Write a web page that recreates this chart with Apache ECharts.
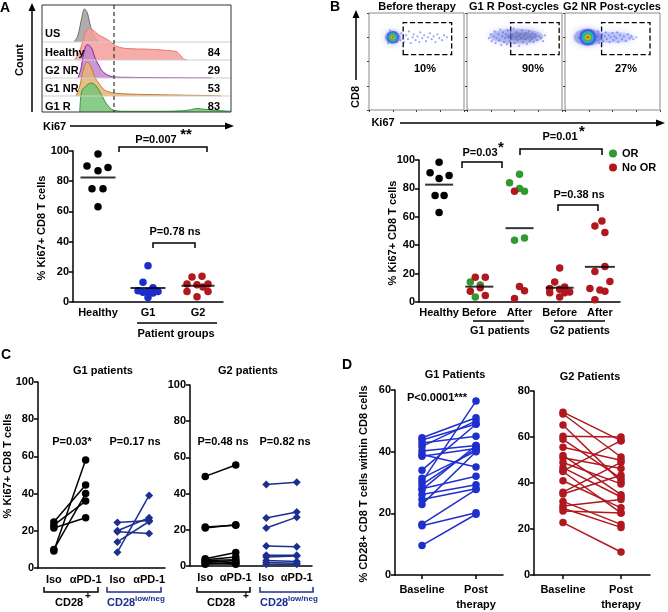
<!DOCTYPE html>
<html><head><meta charset="utf-8">
<script src="https://cdn.jsdelivr.net/npm/echarts@6/dist/echarts.min.js"></script>
<style>html,body{margin:0;padding:0;background:#fff}#c{width:668px;height:612px}</style>
</head><body><div id="c"></div>
<script>
// ================= DATA =================
// Panel A: Ki67 histograms [Ki67 channel 0-100, normalised count 0-100]
const histUS      = [[17,0],[19,20],[21,70],[22.5,97],[24,85],[25.5,50],[27,25],[29,5],[30,0]];
const histHealthy = [[17,0],[19,15],[21,45],[23,80],[25,94],[27,88],[30,74],[33,65],[36,55],[38,45],[42,36],[48,33],[55,32],[62,30],[68,27],[71,25],[73,15],[75,3],[77,0]];
const histG2NR    = [[19,0],[20.5,25],[22,70],[24,98],[26,90],[28,60],[30,38],[32,20],[35,8],[38,3],[45,2],[60,1],[75,0.5],[90,0]];
const histG1NR    = [[18,0],[20,30],[22,80],[24,100],[26,85],[28,55],[30,38],[33,18],[37,10],[42,7],[50,5],[60,4],[70,3],[80,2],[90,1],[95,0]];
const histG1R     = [[20,0],[21,60],[23,75],[26,85],[28,80],[30,65],[32,45],[34,25],[36,12],[38,5],[45,2],[60,2],[72,3],[78,6],[82,10],[86,8],[92,5],[97,3],[100,2]];
const histLabels   = ['US','Healthy','G2 NR','G1 NR','G1 R'];
const histPercents = ['','84','29','53','83'];

// Panel A: scatter
const aCategories = ['Healthy','G1','G2'];
const aHealthy = [98,90,89,87,75,75,63];
const aG1      = [24,13,9.5,7.5,7,7,6.5,6,3];
const aG2      = [17,16.5,12,12,11.5,10,7,7,3.5];

// Panel B: flow plots (Ki67 x, CD8 y; 0-100 channel units)
const flowTitles   = ['Before therapy','G1 R Post-cycles','G2 NR Post-cycles'];
const flowPercents = ['10%','90%','27%'];
const flowGates = [[[36,57],[87,90]], [[46,57],[97,90]], [[38.5,57],[89.5,90]]];
const flow1Dots = [[31,76],[33,72],[34,79],[36,74],[37,70],[39,77],[41,73],[42,81],[44,69],[46,75],[47,78],[49,72],[51,76],[53,70],[54,80],[56,74],[58,77],[60,71],[62,75],[64,79],[66,73],[68,76],[70,70],[72,78],[74,74],[77,72],[79,77],[82,75],[28,80],[29,70],[22,82],[20,69]];
const flow2Dots = [[23,74],[25,78],[26,71],[28,76],[29,81],[30,69],[31,74],[33,78],[34,72],[35,83],[36,67],[37,76],[38,80],[39,70],[40,74],[41,78],[42,68],[43,82],[44,75],[45,71],[46,79],[47,73],[48,77],[49,84],[50,69],[51,75],[52,80],[53,72],[54,76],[55,66],[56,78],[57,74],[58,82],[59,70],[60,77],[61,73],[62,79],[63,68],[64,75],[65,81],[66,71],[67,76],[68,73],[69,79],[70,70],[71,75],[72,78],[74,72],[76,76],[78,74],[80,71],[82,77]];
const flow3Dots = [[15,74],[17,79],[18,70],[30,78],[32,72],[34,76],[35,81],[36,69],[38,74],[39,78],[40,71],[42,76],[43,80],[44,73],[46,77],[47,70],[48,75],[50,79],[51,72],[52,76],[54,74],[55,80],[56,70],[58,77],[60,73],[62,76],[64,71],[66,78],[68,74],[70,76],[72,73],[75,75]];
const flow1Core = [25,75];
const flow2Band = [52,76];
const flow3Core = [24,75];
const flow3Tail = [50,75];

// Panel B: scatter
const bCategories   = ['Healthy','Before','After','Before','After'];
const bHealthy      = [98.5,91,89,87,75,75,63];
const bG1BeforeOR   = [14,12,3.5];
const bG1BeforeNoOR = [17.5,17.5,10,7.5,4.5];
const bG1AfterOR    = [90,84,80,78,45,43.5];
const bG1AfterNoOR  = [78,11,8,2.5];
const bG2Before     = [24,14,10.5,9.5,9,7,6.5,6.5,3.5];
const bG2After      = [57,53.5,49,25,21.5,14.5,9.5,8.5,7.5,1.5];

// Panel C: paired [Iso, aPD-1]
const cTicks = ['Iso','αPD-1','Iso','αPD-1'];
const cG1Pos = [[9.2,58],[10,40],[24.7,44.6],[23,36],[21.5,27]];
const cG1Low = [[24.5,25.5],[20,27],[19.5,18.5],[14,25],[8.5,39]];
const cG2Pos = [[49.5,55.8],[21.5,22.5],[21,22.8],[4,7.5],[3.5,5],[3,3.5],[2.5,2],[2,3],[1.5,1],[1,1.5]];
const cG2Low = [[45,46.3],[26.5,29.8],[21,27],[11,10.7],[6,6],[5,5.5],[3,2.5],[2,1.5],[1,1]];

// Panel D: paired [Baseline, Post therapy]
const dTicks = ['Baseline','Post\ntherapy'];
const dG1 = [[44.5,51],[43.8,49],[42.8,45],[41.7,50],[40.2,42],[39.1,35],[38.5,41],[34,48.9],[31.4,40.2],[30.3,56.4],[29.3,41],[28,32],[27.7,42],[26.1,29.3],[24.5,28],[22.9,40],[16.5,27.7],[16,20.2],[9.6,19.7]];
const dG2 = [[70.8,58.4],[70,51.3],[65.2,40.6],[60.3,60],[59,42],[55.5,49.9],[52,34.9],[51,46.3],[48.9,39.6],[46.7,33.9],[45.3,58.4],[45,27],[41,29.2],[36,49],[35.2,43.4],[32,22],[30,32.8],[29,20.7],[27.8,27],[22.8,10]];

// ================= LAYOUT / STYLE =================
const FONT = '"Liberation Sans", Arial, Helvetica, sans-serif';
const F = s => `bold ${s}px ${FONT}`;
const BLUE = '#1f2fcf', RED = '#b0171f', GREEN = '#2f9a2f', NAVY = '#1c2f8f';
const histStyles = [
  {fill:'#a0a0a0', line:'#6e6e6e'},
  {fill:'#f49d99', line:'#e47874'},
  {fill:'#c186cc', line:'#8a1f9a'},
  {fill:'#e8b174', line:'#c07a30'},
  {fill:'#76c476', line:'#2f9a3a'}
];
const histBaselines = [42,60,78,96,112];
const jitA = {h:[0,-11,10,0,-6,5,0], g1:[0,-5,5,-10,0,10,-5,5,0], g2:[4,-6,-11,10,-1,5,-11,10,-1]};
const jitB = {h:[0,-9,10,0,-4,5,0], bOR:[-9,1,-4], bNo:[-4,6,1,-9,6], aOR:[0,-10,0,5,5,-5], aNo:[-5,0,5,-5], g2b:[0,-5,5,-10,0,10,-10,5,0], g2a:[2,-5,5,5,-5,10,-10,0,5,-5]};

const grids=[], xAxis=[], yAxis=[], series=[], graphic=[];
function addGrid(rect, xa, ya){ const i=grids.length; grids.push(rect); xAxis.push(Object.assign({gridIndex:i}, xa)); yAxis.push(Object.assign({gridIndex:i}, ya)); return i; }
const hidden = (min,max)=>({type:'value',min,max,show:false});
function valAxis(min,max,interval){ return {type:'value',min,max,interval,axisLine:{show:true,lineStyle:{color:'#000',width:1.5}},axisTick:{show:true,length:4,lineStyle:{color:'#000',width:1.5}},axisLabel:{color:'#000',fontWeight:'bold',fontSize:11,fontFamily:FONT,margin:4},splitLine:{show:false}}; }
function catAxis(data, opts){ opts=opts||{}; return {type:'category',data,axisLine:{show:true,lineStyle:{color:'#000',width:1.5}},axisTick:Object.assign({show:false},opts.tick||{}),axisLabel:Object.assign({color:'#000',fontWeight:'bold',fontSize:11,fontFamily:FONT,margin:5,interval:0},opts.label||{}),splitLine:{show:false}}; }
function dots(gi, cat, vals, jit, color, size, name){ series.push({type:'scatter', name, xAxisIndex:gi, yAxisIndex:gi, symbolSize:size, itemStyle:{color, opacity:1}, z:3, data: vals.map((v,k)=>({value:[cat,v], symbolOffset:[jit[k]||0,0]}))}); }
function meanBar(gi, cat, vals, w){ const m = vals.reduce((a,b)=>a+b,0)/vals.length; series.push({type:'scatter', xAxisIndex:gi, yAxisIndex:gi, symbol:'rect', symbolSize:[w,2], itemStyle:{color:'#000'}, z:6, silent:true, data:[[cat,m]]}); }
function pairs(gi, x0, arr, color, symbol, size){ arr.forEach(p=>series.push({type:'line', xAxisIndex:gi, yAxisIndex:gi, data:[[x0,p[0]],[x0+1,p[1]]], symbol, symbolSize:size, showSymbol:true, lineStyle:{color,width:1.5}, itemStyle:{color}, z:3, silent:true})); }

// text / shape helpers (annotations)
function T(x,y,text,o){ o=o||{}; graphic.push({type:'text', x, y, rotation:o.rot||0, z:100, style:{text, font:o.font||F(11), fill:o.color||'#000', align:o.align||'center', textAlign:o.align||'center', verticalAlign:'middle', textVerticalAlign:'middle'}}); }
function L(x1,y1,x2,y2,o){ o=o||{}; graphic.push({type:'line', z:o.z||90, shape:{x1,y1,x2,y2}, style:{stroke:o.color||'#000', lineWidth:o.w||1.5, lineDash:o.dash||null}}); }
function PL(pts,o){ o=o||{}; graphic.push({type:'polyline', z:90, shape:{points:pts}, style:{stroke:o.color||'#000', lineWidth:o.w||1.5, fill:null}}); }
function PG(pts){ graphic.push({type:'polygon', z:90, shape:{points:pts}, style:{fill:'#000'}}); }

// ---------- Panel A histograms ----------
[histUS,histHealthy,histG2NR,histG1NR,histG1R].forEach((h,i)=>{
  const base = histBaselines[i];
  const gi = addGrid({left:42, top:base-34, width:189, height:34}, hidden(0,100), hidden(0,100));
  series.push({type:'line', xAxisIndex:gi, yAxisIndex:gi, data:h, smooth:0.4, symbol:'none', lineStyle:{color:histStyles[i].line,width:1}, areaStyle:{color:histStyles[i].fill, opacity:0.85}, z:2+i, silent:true});
});
graphic.push({type:'rect', z:80, shape:{x:42,y:5,width:189,height:107}, style:{fill:null, stroke:'#333', lineWidth:1}});
[42,60,78,96].forEach(y=>L(42,y,231,y,{color:'#cfcfcf',w:1,z:70}));
L(114,5,114,112,{color:'#333',w:1.2,dash:[4,3]});
const labY=[34,53,71,89,107];
histLabels.forEach((t,i)=>{ T(45,labY[i],t,{align:'left'}); if(histPercents[i]) T(220,labY[i],histPercents[i],{align:'right'}); });
L(32,112,32,10); PG([[32,3],[28.5,11],[35.5,11]]);
T(20,60,'Count',{rot:Math.PI/2});
T(43,127,'Ki67',{align:'left'});
L(70,126,226,126); PG([[234,126],[225,122.5],[225,129.5]]);
T(5,8,'A',{font:F(14)});

// ---------- Panel A scatter ----------
const gA = addGrid({left:73, top:151, width:150, height:151}, catAxis(aCategories), valAxis(0,100,20));
dots(gA,0,aHealthy,jitA.h,'#000',7.5);
dots(gA,1,aG1,jitA.g1,'#1a2ccc',7.5);
dots(gA,2,aG2,jitA.g2,RED,7.5);
meanBar(gA,0,aHealthy,35); meanBar(gA,1,aG1,35); meanBar(gA,2,aG2,33);
T(156,140,'P=0.007'); T(186,135,'**',{font:F(15)});
PL([[119,152],[119,147],[207,147],[207,152]]);
T(175,232,'P=0.78 ns');
PL([[153,248],[153,243],[195,243],[195,248]]);
T(42,228,'% Ki67+ CD8 T cells',{rot:Math.PI/2});
L(137,323,217,323); T(176,334,'Patient groups');

// ---------- Panel B flow plots ----------
const flowLefts=[369,467,565];
const flowDots=[flow1Dots,flow2Dots,flow3Dots];
const blob = (gi, pt, size, color, op) => series.push({type:'scatter',xAxisIndex:gi,yAxisIndex:gi,symbolSize:size,itemStyle:{color,opacity:op,shadowBlur:6,shadowColor:color},data:[pt],silent:true,z:2});
flowLefts.forEach((left,k)=>{
  const ax = {type:'value',min:0,max:100,interval:25,axisLine:{show:false},axisLabel:{show:false},splitLine:{show:false},axisTick:{show:true,length:2,lineStyle:{color:'#444',width:1}}};
  const gi = addGrid({left, top:13, width:95, height:97, show:true, borderColor:'#8a8a8a', borderWidth:1}, Object.assign({},ax), Object.assign({},ax));
  if(k===1){
    blob(gi, flow2Band, [54,15], '#5868e8', 0.3);
    blob(gi, [flow2Band[0]+6,flow2Band[1]], [32,8], '#5a6290', 0.3);
  }
  if(k===2){
    blob(gi, flow3Tail, [42,11], '#6f7ff0', 0.28);
    blob(gi, flow3Core, [28,17], '#4050e0', 0.35);
  }
  if(k===0){ blob(gi, flow1Core, [16,13], '#4050e0', 0.35); }
  series.push({type:'scatter',xAxisIndex:gi,yAxisIndex:gi,symbolSize:2.2,itemStyle:{color:'#4f60e6',opacity:0.55},data:flowDots[k],silent:true,z:3,
    markArea:{silent:true,itemStyle:{color:'rgba(0,0,0,0)',borderColor:'#000',borderWidth:1.3,borderType:'dashed'},data:[[{coord:flowGates[k][0]},{coord:flowGates[k][1]}]]}});
  const core = k===0?flow1Core:(k===2?flow3Core:null);
  if(core){
    const sizes = k===0?[12,9,6,3.5,1.8]:[16,12,8,5,2.5];
    const cols = ['#3b4bd8','#27b2d8','#35b84a','#e6d21e','#e4361e'];
    sizes.forEach((s,j)=>series.push({type:'scatter',xAxisIndex:gi,yAxisIndex:gi,symbolSize:s,itemStyle:{color:cols[j],opacity:j===0?0.7:0.85,shadowBlur:2,shadowColor:cols[j]},data:[core],silent:true,z:4+j}));
  }
});
T(417,7,flowTitles[0]); T(514,7,flowTitles[1]); T(612,7,flowTitles[2]);
T(425,69,flowPercents[0]); T(533,69,flowPercents[1]); T(626,69,flowPercents[2]);
L(356,80,356,17); PG([[356,10],[352.5,18],[359.5,18]]);
T(356,97,'CD8',{rot:Math.PI/2});
T(383,123,'Ki67');
L(400,123,657,123); PG([[665,123],[656,119.5],[656,126.5]]);
T(335,7,'B',{font:F(14)});

// ---------- Panel B scatter ----------
const gB = addGrid({left:419, top:160, width:201, height:142}, catAxis(bCategories), valAxis(0,100,20));
dots(gB,0,bHealthy,jitB.h,'#000',7.5);
dots(gB,1,bG1BeforeOR,jitB.bOR,GREEN,7.5,'OR');
dots(gB,1,bG1BeforeNoOR,jitB.bNo,RED,7.5,'No OR');
dots(gB,2,bG1AfterOR,jitB.aOR,GREEN,7.5,'OR');
dots(gB,2,bG1AfterNoOR,jitB.aNo,RED,7.5,'No OR');
dots(gB,3,bG2Before,jitB.g2b,RED,7.5,'No OR');
dots(gB,4,bG2After,jitB.g2a,RED,7.5,'No OR');
meanBar(gB,0,bHealthy,28);
meanBar(gB,1,bG1BeforeOR.concat(bG1BeforeNoOR),28);
meanBar(gB,2,bG1AfterOR.concat(bG1AfterNoOR),28);
meanBar(gB,3,bG2Before,28);
meanBar(gB,4,bG2After,30);
T(480,153,'P=0.03'); T(501,148,'*',{font:F(15)});
PL([[462,168],[462,162],[502,162],[502,168]]);
T(560,137,'P=0.01'); T(582,132,'*',{font:F(15)});
PL([[520,155],[520,149],[602,149],[602,155]]);
T(579,195,'P=0.38 ns');
PL([[558,211],[558,205],[598,205],[598,211]]);
T(393,233,'% Ki67+ CD8 T cells',{rot:Math.PI/2});
L(473,321,524,321); T(500,331,'G1 patients');
L(554,321,605,321); T(580,331,'G2 patients');

// ---------- Panel C ----------
const cAxisX = () => catAxis(cTicks,{label:{margin:6}});
const gC1 = addGrid({left:38, top:382, width:127, height:186}, cAxisX(), valAxis(0,100,20));
pairs(gC1,0,cG1Pos,'#000','circle',7.5);
pairs(gC1,2,cG1Low,NAVY,'diamond',8);
const gC2 = addGrid({left:190, top:385, width:122, height:181}, cAxisX(), valAxis(0,100,20));
pairs(gC2,0,cG2Pos,'#000','circle',7.5);
pairs(gC2,2,cG2Low,NAVY,'diamond',8);
T(6,355,'C',{font:F(14)});
T(103,371,'G1 patients'); T(248,371,'G2 patients');
T(8,466,'% Ki67+ CD8 T cells',{rot:Math.PI/2});
T(72,442,'P=0.03*'); T(135,442,'P=0.17 ns'); T(223,442,'P=0.48 ns'); T(285,442,'P=0.82 ns');
PL([[44,587],[44,592],[98,592],[98,587]]);
PL([[107,587],[107,592],[161,592],[161,587]],{color:NAVY});
PL([[197,587],[197,592],[250,592],[250,587]]);
PL([[260,587],[260,592],[313,592],[313,587]],{color:NAVY});
T(55,603,'CD28',{align:'left'}); T(88,596,'+',{font:F(10)});
T(107,603,'CD28',{align:'left',color:NAVY}); T(135,599,'low/neg',{align:'left',color:NAVY,font:F(8)});
T(207,603,'CD28',{align:'left'}); T(246,596,'+',{font:F(10)});
T(260,603,'CD28',{align:'left',color:NAVY}); T(288,599,'low/neg',{align:'left',color:NAVY,font:F(8)});

// ---------- Panel D ----------
const dAxisX = () => catAxis(dTicks,{tick:{show:true,alignWithLabel:true,length:4,lineStyle:{color:'#000',width:1.5}},label:{margin:7,lineHeight:15}});
const gD1 = addGrid({left:395, top:390, width:108, height:188}, dAxisX(), valAxis(0,60,20));
pairs(gD1,0,dG1,BLUE,'circle',7.5);
const gD2 = addGrid({left:534, top:391, width:116, height:187}, dAxisX(), valAxis(0,80,20));
pairs(gD2,0,dG2,RED,'circle',7.5);
T(347,365,'D',{font:F(14)});
T(455,375,'G1 Patients'); T(590,377,'G2 Patients');
T(437,398,'P<0.0001***');
T(364,484,'% CD28+ CD8 T cells within CD8 cells',{rot:Math.PI/2});

const chart = echarts.init(document.getElementById('c'));
chart.setOption({
  animation:false,
  backgroundColor:'#fff',
  textStyle:{fontFamily:FONT},
  legend:{data:['OR','No OR'], left:609, top:148, orient:'vertical', itemGap:3, itemWidth:8, itemHeight:8, icon:'circle', padding:0, textStyle:{color:'#000',fontWeight:'bold',fontSize:11,fontFamily:FONT}},
  grid:grids, xAxis, yAxis, series, graphic
});
</script></body></html>
